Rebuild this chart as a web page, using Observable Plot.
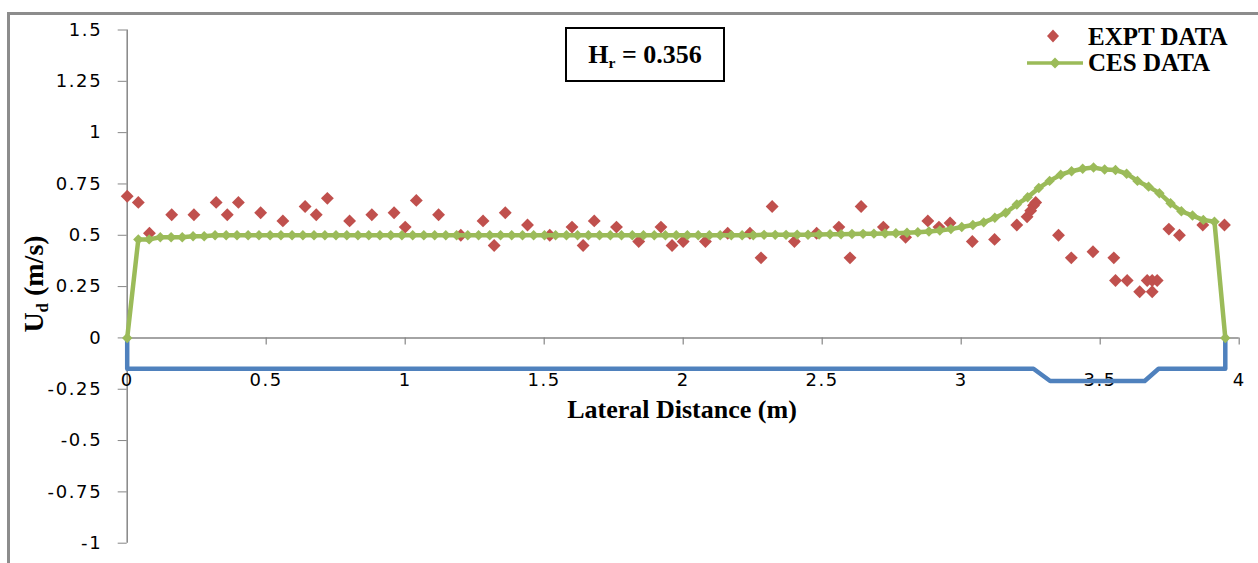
<!DOCTYPE html>
<html><head><meta charset="utf-8">
<script src="https://cdn.jsdelivr.net/npm/d3@7"></script>
<script src="https://cdn.jsdelivr.net/npm/@observablehq/plot@0.6"></script>
<style>
html,body{margin:0;padding:0;background:#fff;}
#wrap{position:relative;width:1258px;height:563px;overflow:hidden;}
#frame{position:absolute;left:7px;top:12px;right:-10px;bottom:-10px;border-top:3px solid #8c8c8c;border-left:3px solid #8c8c8c;pointer-events:none;}
#wrap svg text{letter-spacing:1.6px;}
.serif{font-family:"Liberation Serif","Times New Roman",serif;font-weight:bold;color:#000;position:absolute;white-space:nowrap;}
#ytitle{left:34px;top:284px;font-size:28px;transform:translate(-50%,-50%) rotate(-90deg);}
.sub{font-size:60%;position:relative;top:0.3em;}
#xtitle{left:682px;top:410px;font-size:26px;transform:translate(-50%,-50%);}
#hbox{left:565px;top:27px;width:160px;height:55px;box-sizing:border-box;border:2px solid #000;font-size:26px;text-align:center;line-height:51px;}
.legtxt{font-size:25px;height:26px;line-height:26px;left:1088px;}
.legsym{position:absolute;}
</style>
</head><body>
<div id="wrap">
  <div id="plot"></div>
  <div id="frame"></div>
  <div class="serif" id="ytitle">U<span class="sub">d</span> (m/s)</div>
  <div class="serif" id="xtitle">Lateral Distance (m)</div>
  <div class="serif" id="hbox">H<span class="sub">r</span>&nbsp;= 0.356</div>
  <svg class="legsym" style="left:1045px;top:28px" width="16" height="16"><path d="M8,1.5L14,8L8,14.5L2,8Z" fill="#C0504D"/></svg>
  <div class="serif legtxt" style="top:24px">EXPT DATA</div>
  <svg class="legsym" style="left:1026px;top:55px" width="58" height="16"><line x1="1" y1="8" x2="57" y2="8" stroke="#9BBB59" stroke-width="3.5"/><path d="M29,2.5L34.5,8L29,13.5L23.5,8Z" fill="#9BBB59"/></svg>
  <div class="serif legtxt" style="top:50px">CES DATA</div>
</div>
<script>
// Experimental data (EXPT DATA)
const exptX = [0, 0.04, 0.08, 0.16, 0.24, 0.32, 0.36, 0.40, 0.48, 0.56,
  0.64, 0.68, 0.72, 0.80, 0.88, 0.96, 1.0, 1.04, 1.12, 1.2,
  1.28, 1.32, 1.36, 1.44, 1.52, 1.6, 1.64, 1.68, 1.76, 1.84,
  1.92, 1.96, 2.0, 2.08, 2.16, 2.24, 2.28, 2.32, 2.4, 2.48,
  2.56, 2.6, 2.64, 2.72, 2.8, 2.88, 2.92, 2.96, 3.04, 3.12,
  3.2, 3.237, 3.25, 3.26, 3.268, 3.35, 3.396, 3.474, 3.549, 3.555,
  3.597, 3.642, 3.669, 3.687, 3.687, 3.705, 3.747, 3.785, 3.869, 3.947];
const exptY = [0.69, 0.66, 0.51, 0.60, 0.60, 0.66, 0.60, 0.66, 0.61, 0.57,
  0.64, 0.60, 0.68, 0.57, 0.60, 0.61, 0.54, 0.67, 0.60, 0.50,
  0.57, 0.45, 0.61, 0.55, 0.50, 0.54, 0.45, 0.57, 0.54, 0.47,
  0.54, 0.45, 0.47, 0.47, 0.51, 0.51, 0.39, 0.64, 0.47, 0.51,
  0.54, 0.39, 0.64, 0.54, 0.49, 0.57, 0.54, 0.56, 0.47, 0.48,
  0.55, 0.59, 0.62, 0.645, 0.66, 0.50, 0.39, 0.42, 0.39, 0.28,
  0.28, 0.225, 0.28, 0.28, 0.225, 0.28, 0.53, 0.50, 0.55, 0.55];

// CES model (CES DATA)
const cesX = [0, 0.04, 0.079, 0.119, 0.158, 0.198, 0.237, 0.277, 0.316, 0.356,
  0.395, 0.435, 0.474, 0.514, 0.553, 0.593, 0.632, 0.672, 0.711, 0.751,
  0.79, 0.83, 0.869, 0.909, 0.948, 0.988, 1.027, 1.067, 1.106, 1.146,
  1.185, 1.225, 1.264, 1.304, 1.343, 1.383, 1.422, 1.462, 1.501, 1.541,
  1.58, 1.62, 1.659, 1.699, 1.738, 1.778, 1.817, 1.857, 1.896, 1.936,
  1.975, 2.015, 2.054, 2.094, 2.133, 2.173, 2.212, 2.252, 2.291, 2.331,
  2.37, 2.41, 2.449, 2.489, 2.528, 2.568, 2.607, 2.647, 2.686, 2.726,
  2.765, 2.805, 2.844, 2.884, 2.923, 2.963, 3.002, 3.042, 3.081, 3.121,
  3.16, 3.2, 3.239, 3.279, 3.318, 3.358, 3.397, 3.437, 3.476, 3.516,
  3.555, 3.595, 3.634, 3.674, 3.713, 3.753, 3.792, 3.832, 3.871, 3.911,
  3.95];
const cesY = [0, 0.48, 0.48, 0.49, 0.49, 0.49, 0.495, 0.495, 0.5, 0.5,
  0.5, 0.5, 0.5, 0.5, 0.5, 0.5, 0.5, 0.5, 0.5, 0.5,
  0.5, 0.5, 0.5, 0.5, 0.5, 0.5, 0.5, 0.5, 0.5, 0.5,
  0.5, 0.5, 0.5, 0.5, 0.5, 0.5, 0.5, 0.5, 0.5, 0.5,
  0.5, 0.5, 0.5, 0.5, 0.5, 0.5, 0.5, 0.5, 0.5, 0.5,
  0.5, 0.5, 0.5, 0.5, 0.5, 0.5, 0.5, 0.5, 0.502, 0.502,
  0.502, 0.503, 0.503, 0.504, 0.505, 0.505, 0.506, 0.507, 0.508, 0.509,
  0.51, 0.512, 0.515, 0.518, 0.523, 0.53, 0.54, 0.55, 0.563, 0.585,
  0.61, 0.65, 0.685, 0.73, 0.765, 0.795, 0.812, 0.824, 0.83, 0.82,
  0.818, 0.8, 0.765, 0.737, 0.705, 0.656, 0.617, 0.596, 0.575, 0.566,
  0];

// Channel cross-section outline
const chanX = [0, 0, 3.26, 3.32, 3.66, 3.71, 3.95, 3.95];
const chanY = [0, -0.15, -0.15, -0.21, -0.21, -0.15, -0.15, 0];

// Axis ticks
const xTicks = [0, 0.5, 1, 1.5, 2, 2.5, 3, 3.5, 4];
const yTicks = [-1, -0.75, -0.5, -0.25, 0, 0.25, 0.5, 0.75, 1, 1.25, 1.5];

const expt = exptX.map((x, i) => ({x, y: exptY[i]}));
const ces = cesX.map((x, i) => ({x, y: cesY[i]}));
const chan = chanX.map((x, i) => ({x, y: chanY[i]}));

const chart = Plot.plot({
  width: 1258, height: 563,
  marginLeft: 126.7, marginRight: 19.3, marginTop: 29.5, marginBottom: 20.3,
  x: {domain: [0, 4], axis: null},
  y: {domain: [-1, 1.5]},
  style: {fontFamily: "DejaVu Sans", fontSize: "18px", color: "#000", background: "transparent"},
  marks: [
    Plot.ruleX([0], {y1: -1, y2: 1.5, stroke: "#868686", strokeWidth: 1.5}),
    Plot.axisY(yTicks, {tickSize: 9, tickPadding: 16, stroke: "#868686", fill: "#000", tickFormat: d => String(d), label: null}),
    Plot.ruleY([0], {stroke: "#868686", strokeWidth: 1.5}),
    Plot.ruleX(xTicks, {x: d => d, y1: 0, y2: 0, insetBottom: -7, stroke: "#868686", strokeWidth: 1.2}),
    Plot.text(xTicks, {x: d => d, y: 0, dy: 42, text: d => String(d), fill: "#000"}),
    Plot.line(chan, {x: "x", y: "y", stroke: "#4F81BD", strokeWidth: 4.5, strokeLinejoin: "round"}),
    Plot.dot(expt, {x: "x", y: "y", symbol: "diamond2", r: 5.8, fill: "#C0504D"}),
    Plot.line(ces, {x: "x", y: "y", stroke: "#9BBB59", strokeWidth: 4.5}),
    Plot.dot(ces, {x: "x", y: "y", symbol: "diamond2", r: 4.7, fill: "#9BBB59"})
  ]
});
document.getElementById("plot").appendChild(chart);
</script>
</body></html>
